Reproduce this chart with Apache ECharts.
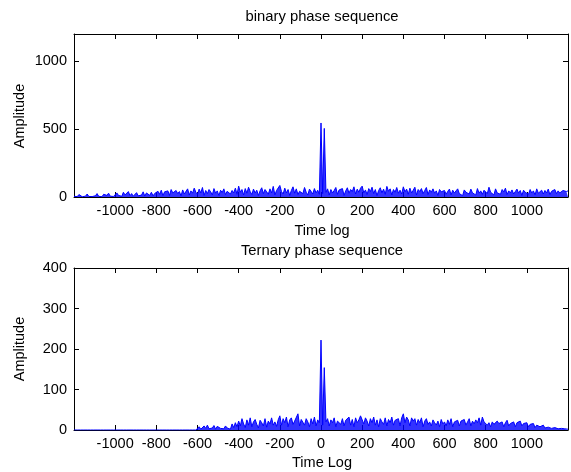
<!DOCTYPE html>
<html><head><meta charset="utf-8">
<script src="https://cdn.jsdelivr.net/npm/echarts@6/dist/echarts.min.js"></script>
<style>html,body{margin:0;padding:0;background:#fff}#c{width:571px;height:472px}</style>
</head><body><div id="c"></div>
<script>
// lag axis: lagStart + i*lagStep
const lagStart = -1200;
const lagStep = 8;

// binary phase sequence (|correlation|)
const binaryAmp = [
  5,12,3,18,8, 2,15,6,22,4, 10,3,17,9,25, 5,14,2,20,7, 12,28,6,16,4,
  8,30,12,22,5, 35,15,28,40,10, 25,6,18,32,9, 22,14,38,7,30, 20,12,35,8,26,
  15,42,20,50,10, 38,28,45,12,55, 30,18,48,25,40, 8,52,22,35,60, 15,45,28,65,35,
  20,58,30,70,12, 48,25,55,38,15, 62,28,45,10,50, 33,60,18,42,55, 22,48,30,65,20,
  80,35,55,15,62, 28,72,40,18,58, 30,50,12,45,68, 25,55,38,20,60, 30,78,15,48,35,
  85,40,22,65,30, 55,12,48,75,28, 60,18,42,55,25, 70,35,15,58,45, 22,62,30,50,20,
  545,25,505,35,60, 15,55,30,48,70, 20,52,38,62,12, 45,68,28,55,40, 75,22,58,35,65,
  80,30,52,18,62, 40,72,25,55,10, 48,68,30,58,20, 78,42,60,15,55, 35,70,28,50,22,
  75,38,58,20,65, 30,50,72,15,55, 40,62,25,48,70, 18,52,35,60,28, 45,12,55,38,50,
  48,20,42,58,15, 50,30,45,60,25, 38,10,52,35,48, 22,58,30,40,15, 62,28,45,20,50,
  55,25,72,35,48, 15,60,30,42,20, 55,38,65,18,45, 30,52,22,40,58, 28,48,12,50,35,
  42,20,55,30,45, 15,60,28,38,50, 22,48,30,58,18, 42,35,55,25,45, 30,20,48,35,40,
  45
];

// ternary phase sequence
const ternaryAmp = [
  0,0,0,0,0, 0,0,0,0,0, 0,0,0,0,0, 0,0,0,0,0, 0,0,0,0,0,
  0,0,0,0,0, 0,0,0,0,0, 0,0,0,0,0, 0,0,0,0,0, 0,0,0,0,0,
  0,0,0,0,0, 0,0,0,0,0, 0,0,0,0,0, 0,0,0,0,0, 0,0,0,0,0,
  3,8,2,6,10, 4,12,3,7,5, 11,2,9,6,4, 8,3,10,5,7, 2,15,6,18,8,
  22,10,28,15,6, 25,12,30,8,20, 26,14,5,24,18, 10,28,7,22,15, 30,12,20,9,25,
  35,12,28,18,32, 8,25,30,14,22, 18,40,10,26,30, 12,28,20,8,28, 15,32,10,25,18,
  222,12,154,20,28, 10,25,18,30,8, 22,26,14,28,10, 24,20,32,12,26, 8,30,18,25,35,
  38,15,30,22,10, 28,18,32,12,25, 8,28,20,14,30, 10,26,18,32,12, 24,20,28,10,30,
  40,18,32,25,10, 30,22,28,12,26, 18,30,8,22,28, 14,20,10,25,18, 12,22,8,26,15,
  20,10,25,14,28, 8,20,16,24,10, 22,18,26,12,20, 28,10,22,15,25, 18,30,12,32,20,
  22,12,18,8,20, 14,10,22,16,12, 20,8,18,24,10, 16,12,20,8,18, 14,22,10,16,12,
  18,8,14,10,16, 6,12,14,8,10, 12,5,9,7,10, 4,8,6,5,3, 6,4,5,3,4,
  2
];

const xRange = [-1200, 1200];
const xTickStep = 200;
const yTop = { max: 1200, step: 500 };
const yBottom = { max: 400, step: 100 };
const titles = ['binary phase sequence', 'Ternary phase sequence'];
const xNames = ['Time log', 'Time Log'];
const yName = 'Amplitude';

const FONT = 'Liberation Sans, Arial, Helvetica, sans-serif';
const toPairs = arr => arr.map((v, i) => [lagStart + i * lagStep, v]);

const grids = [
  { left: 74, top: 34, width: 496, height: 163 },
  { left: 74, top: 268, width: 496, height: 162 }
];

function xAxes(gi) {
  const base = {
    type: 'value', gridIndex: gi, min: xRange[0], max: xRange[1], interval: xTickStep,
    splitLine: { show: false },
    axisLine: { show: true, onZero: false, lineStyle: { color: '#000', width: 1 } },
    axisTick: { show: true, inside: true, length: 5, lineStyle: { color: '#000' } }
  };
  return [
    Object.assign({}, base, {
      position: 'bottom',
      axisLabel: { color: '#000', fontSize: 14.5, fontFamily: FONT, margin: 6,
        formatter: v => (Math.abs(v) >= 1200 ? '' : String(v)) }
    }),
    Object.assign({}, base, { position: 'top', axisLabel: { show: false } })
  ];
}
function yAxes(gi, cfg) {
  const base = {
    type: 'value', gridIndex: gi, min: 0, max: cfg.max, interval: cfg.step,
    splitLine: { show: false },
    axisLine: { show: true, onZero: false, lineStyle: { color: '#000', width: 1 } },
    axisTick: { show: true, inside: true, length: 5, lineStyle: { color: '#000' } }
  };
  return [
    Object.assign({}, base, {
      position: 'left',
      axisLabel: { color: '#000', fontSize: 14.5, fontFamily: FONT, margin: 7,
        formatter: v => (v % cfg.step === 0 ? String(v) : '') }
    }),
    Object.assign({}, base, { position: 'right', axisLabel: { show: false } })
  ];
}

const txt = (text, x, y, rot, size) => ({
  type: 'text', x: x, y: y, rotation: rot || 0,
  style: { text: text, fill: '#000', font: (size || 14.5) + 'px ' + FONT, textAlign: 'center', textVerticalAlign: 'middle' }
});

const seriesStyle = {
  type: 'line', showSymbol: false, z: 5,
  lineStyle: { color: '#0000ff', width: 1 },
  itemStyle: { color: '#0000ff' },
  areaStyle: { color: '#0000ff', opacity: 0.8 }
};

const chart = echarts.init(document.getElementById('c'), null, { renderer: 'canvas' });
chart.setOption({
  animation: false,
  backgroundColor: '#fff',
  grid: grids.map(g => Object.assign({ show: false, containLabel: false }, g)),
  xAxis: [...xAxes(0), ...xAxes(1)],
  yAxis: [...yAxes(0, yTop), ...yAxes(1, yBottom)],
  series: [
    Object.assign({}, seriesStyle, { xAxisIndex: 0, yAxisIndex: 0, data: toPairs(binaryAmp) }),
    Object.assign({}, seriesStyle, { xAxisIndex: 2, yAxisIndex: 2, data: toPairs(ternaryAmp) })
  ],
  graphic: [
    txt(titles[0], 322, 17, 0, 14.8),
    txt(xNames[0], 322, 231),
    txt(titles[1], 322, 251, 0, 14.8),
    txt(xNames[1], 322, 463),
    txt(yName, 20, 116, Math.PI / 2),
    txt(yName, 20, 349, Math.PI / 2)
  ]
});
</script>
</body></html>
